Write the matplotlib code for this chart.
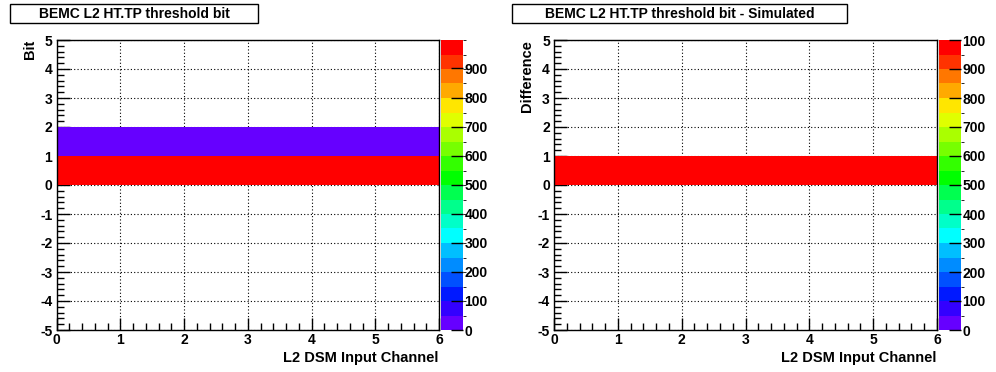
import numpy as np
import matplotlib.pyplot as plt
from matplotlib.colors import ListedColormap, BoundaryNorm
from matplotlib.patches import Rectangle
from matplotlib.ticker import MultipleLocator
from matplotlib.transforms import Bbox, TransformedBbox

plt.rcParams['font.family'] = ['Liberation Sans', 'DejaVu Sans']
plt.rcParams['font.weight'] = 'bold'
plt.rcParams['axes.unicode_minus'] = False

# histogram binning
x_edges = [0, 1, 2, 3, 4, 5, 6]
y_edges = [-5, -4, -3, -2, -1, 0, 1, 2, 3, 4, 5]

# counts per channel for each y bin
bit_counts = {0: [998, 998, 998, 998, 998, 998],
              1: [2, 2, 2, 2, 2, 2]}
diff_counts = {0: [1000, 1000, 1000, 1000, 1000, 1000]}

titles = ["BEMC L2 HT.TP threshold bit", "BEMC L2 HT.TP threshold bit - Simulated"]
ylabels = ["Bit", "Difference"]
xlabel = "L2 DSM Input Channel"

# 20 level rainbow palette, low to high
palette = ["#6600ff", "#3300ff", "#0019ff", "#0050ff", "#008cff", "#00bfff",
           "#00ffff", "#00ffc8", "#00ff8c", "#00ff50", "#00ff00", "#33ff00",
           "#77ff00", "#aaff00", "#e0ff00", "#ffe600", "#ffaa00", "#ff7700",
           "#ff3300", "#ff0000"]
cmap = ListedColormap(palette)


def to_grid(counts):
    z = np.zeros((len(y_edges) - 1, len(x_edges) - 1))
    for ybin, vals in counts.items():
        z[ybin - y_edges[0]] = vals
    return np.ma.masked_equal(z, 0)


W, H = 996, 372
fig = plt.figure(figsize=(W / 100, H / 100), dpi=100)


def fx(px):
    return px / W


def fy(py):
    return 1 - py / H


panels = [
    dict(ax=(56.5, 439), cb=(441, 463), box=(10, 258), ylab_x=30, data=bit_counts),
    dict(ax=(554, 937), cb=(939, 961), box=(512, 847), ylab_x=527, data=diff_counts),
]
top, bottom = 40, 330
tsize = 10

for i, p in enumerate(panels):
    x0, x1 = p["ax"]
    ax = fig.add_axes([fx(x0), fy(bottom), fx(x1 - x0), (bottom - top) / H])
    z = to_grid(p["data"])
    zmax = z.max()
    norm = BoundaryNorm(np.linspace(0, zmax, 21), 20, clip=True)
    mesh = ax.pcolormesh(x_edges, y_edges, z, cmap=cmap, norm=norm, zorder=1)
    ax.set_xlim(0, 6)
    ax.set_ylim(-5, 5)
    ax.xaxis.set_major_locator(MultipleLocator(1))
    ax.xaxis.set_minor_locator(MultipleLocator(0.2))
    ax.yaxis.set_major_locator(MultipleLocator(1))
    ax.yaxis.set_minor_locator(MultipleLocator(0.2))
    ax.tick_params(which='both', direction='in', labelsize=tsize, width=1)
    ax.tick_params(which='major', length=9)
    ax.tick_params(which='minor', length=5)
    ax.tick_params(axis='x', pad=2)
    ax.tick_params(axis='y', pad=3)
    for lab in ax.get_xticklabels() + ax.get_yticklabels():
        lab.set_fontweight('bold')
    ax.grid(True, which='major', color='black', linestyle=(0, (1, 2)), linewidth=0.8)
    ax.set_axisbelow(True)
    for s in ax.spines.values():
        s.set_linewidth(1)

    c0, c1 = p["cb"]
    cax = fig.add_axes([fx(c0), fy(bottom), fx(c1 - c0), (bottom - top) / H])
    cb = fig.colorbar(mesh, cax=cax)
    cb.set_ticks(np.arange(0, zmax + 1, 100))
    cb.outline.set_visible(False)
    cax.tick_params(direction='in', length=9, width=1, labelsize=tsize, pad=1)
    labs = cax.get_yticklabels()
    for lab in labs:
        lab.set_fontweight('bold')
    # the canvas edge cuts the last digit of the top label
    labs[-1].set_clip_box(TransformedBbox(Bbox([[0, 0], [985 / W, 1]]), fig.transFigure))
    labs[-1].set_clip_on(True)

    # title box
    b0, b1 = p["box"]
    fig.patches.append(Rectangle((fx(b0), fy(23)), fx(b1 - b0), 19 / H,
                                 transform=fig.transFigure, facecolor='white',
                                 edgecolor='black', linewidth=1))
    fig.text(fx((b0 + b1) / 2), fy(14), titles[i], ha='center', va='center',
             fontsize=10, fontweight='bold')

    fig.text(fx(p["ylab_x"]), fy(top), ylabels[i], rotation=90, ha='center',
             va='top', fontsize=10.5, fontweight='bold')
    fig.text(fx(x1 - 1), fy(358), xlabel, ha='right', va='center',
             fontsize=10.5, fontweight='bold')

fig.savefig("out.png", dpi=100)
